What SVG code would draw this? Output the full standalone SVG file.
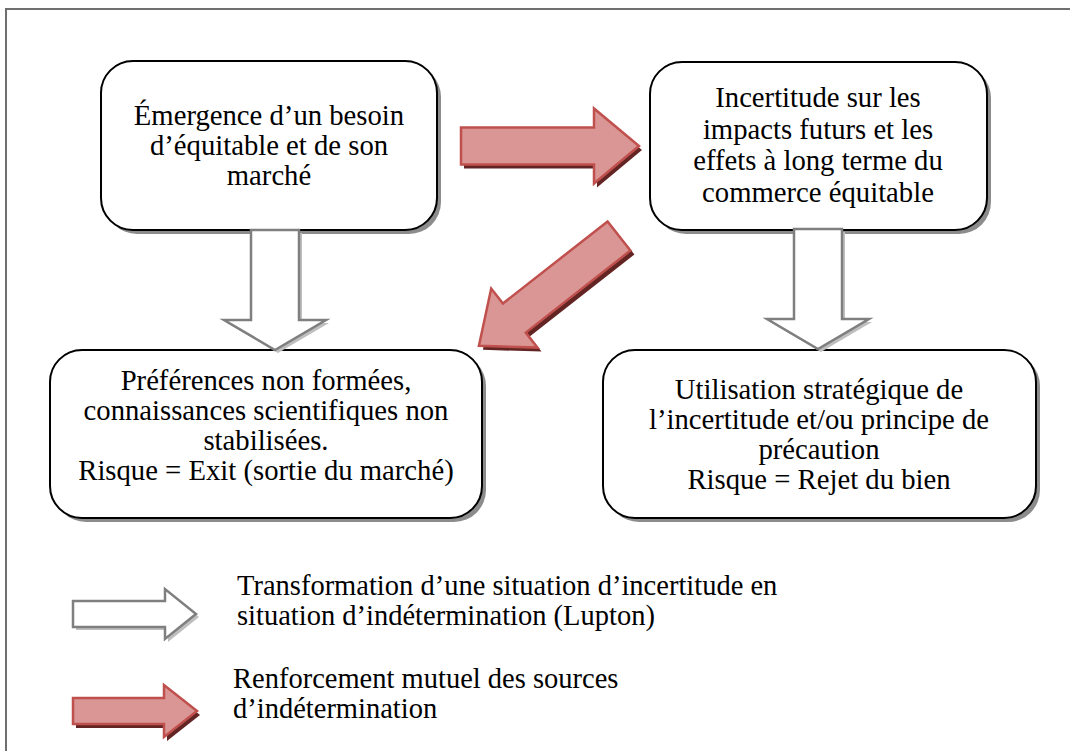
<svg xmlns="http://www.w3.org/2000/svg" width="1070" height="751" viewBox="0 0 1070 751">
<style>
.box{fill:#fff;stroke:#000;stroke-width:2}
.bsh{fill:#8c8c8c}
.t{font-family:"Liberation Serif","Times New Roman",serif;font-size:28.7px;fill:#000;text-anchor:middle}
.lt{font-family:"Liberation Serif","Times New Roman",serif;font-size:28.5px;fill:#000}
.wa{fill:#fff;stroke:#7f7f7f;stroke-width:2.5;stroke-linejoin:miter}
.was{fill:#bfbfbf}
.ra{fill:#d99694;stroke:#c0504d;stroke-width:2.5;stroke-linejoin:miter}
.ras{fill:#632523}
</style>
<defs>
<path id="redArrow" d="M0,-18.5 H133 V-37.5 L178,0 L133,37.5 V18.5 H0 Z"/>
<path id="whiteDown" d="M-24,0 H24 V90 H51 L0,120 L-51,90 H-24 Z"/>
</defs>
<rect x="6" y="9" width="1080" height="760" fill="#fff" stroke="#6f6f6f" stroke-width="2"/>

<g id="node-emergence">
<rect class="bsh" x="105" y="65" width="336" height="169" rx="32"/>
<rect class="box" x="101" y="61" width="336" height="169" rx="32"/>
<text class="t" x="269" y="125">Émergence d’un besoin</text>
<text class="t" x="269" y="155">d’équitable et de son</text>
<text class="t" x="269" y="185">marché</text>
</g>

<g id="node-incertitude">
<rect class="bsh" x="654" y="66" width="337" height="168" rx="32"/>
<rect class="box" x="650" y="62" width="337" height="168" rx="32"/>
<text class="t" x="818" y="107">Incertitude sur les</text>
<text class="t" x="818" y="139">impacts futurs et les</text>
<text class="t" x="818" y="170">effets à long terme du</text>
<text class="t" x="818" y="202">commerce équitable</text>
</g>

<g id="node-preferences">
<rect class="bsh" x="54" y="354" width="432" height="168" rx="32"/>
<rect class="box" x="50" y="350" width="432" height="168" rx="32"/>
<text class="t" x="266" y="390">Préférences non formées,</text>
<text class="t" x="266" y="420">connaissances scientifiques non</text>
<text class="t" x="266" y="450">stabilisées.</text>
<text class="t" x="266" y="480">Risque = Exit (sortie du marché)</text>
</g>

<g id="node-utilisation">
<rect class="bsh" x="607" y="354" width="433" height="168" rx="32"/>
<rect class="box" x="603" y="350" width="433" height="168" rx="32"/>
<text class="t" x="819" y="399">Utilisation stratégique de</text>
<text class="t" x="819" y="429">l’incertitude et/ou principe de</text>
<text class="t" x="819" y="459">précaution</text>
<text class="t" x="819" y="489">Risque = Rejet du bien</text>
</g>

<g id="connectors">
<use href="#whiteDown" class="was" transform="translate(278,233)"/>
<use href="#whiteDown" class="wa" transform="translate(275,230)"/>
<use href="#whiteDown" class="was" transform="translate(821,232)"/>
<use href="#whiteDown" class="wa" transform="translate(818,229)"/>
<use href="#redArrow" class="ras" transform="translate(464,150)"/>
<use href="#redArrow" class="ra" transform="translate(461,146)"/>
<use href="#redArrow" class="ras" transform="translate(623,240) rotate(141.9)"/>
<use href="#redArrow" class="ra" transform="translate(619,236) rotate(141.9)"/>
</g>

<g id="legend">
<path class="was" d="M76,604 H168 V592 L199,617 L168,642 V630 H76 Z"/>
<path class="wa" d="M73,601 H165 V589 L196,614 L165,639 V627 H73 Z"/>
<text class="lt" x="237" y="595">Transformation d’une situation d’incertitude en</text>
<text class="lt" x="237" y="625">situation d’indétermination (Lupton)</text>
<path class="ras" d="M76,702 H167 V689 L200,715 L167,741 V728 H76 Z"/>
<path class="ra" d="M73,698 H164 V685 L197,711 L164,737 V724 H73 Z"/>
<text class="lt" x="233" y="688">Renforcement mutuel des sources</text>
<text class="lt" x="233" y="718">d’indétermination</text>
</g>
</svg>
